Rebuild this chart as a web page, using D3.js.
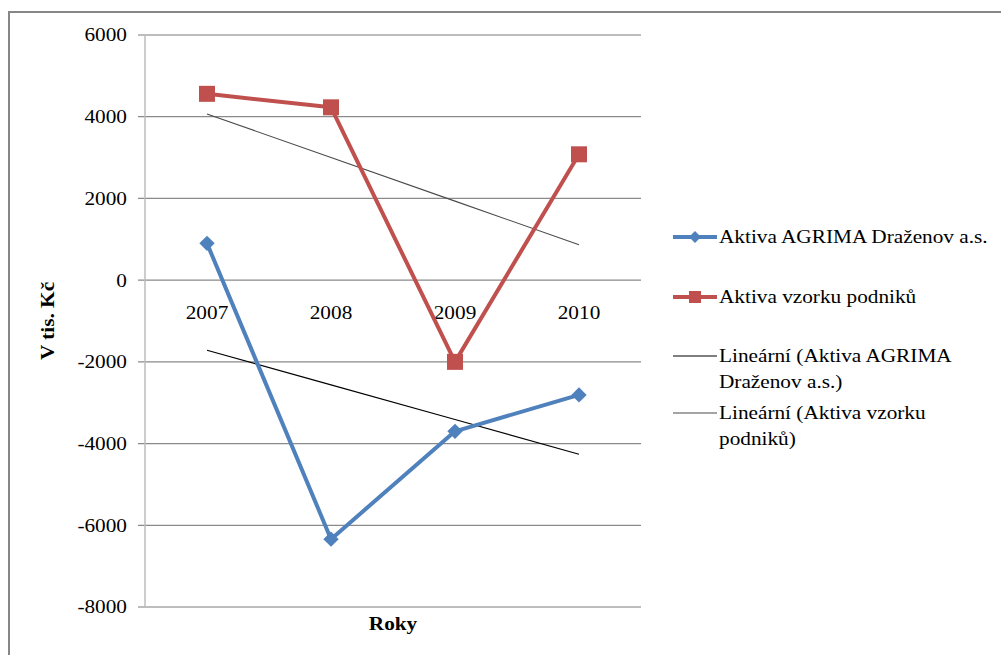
<!DOCTYPE html>
<html>
<head>
<meta charset="utf-8">
<script src="https://cdn.jsdelivr.net/npm/d3@7"></script>
<style>
  html, body { margin: 0; padding: 0; background: #fff; }
  svg { display: block; font-family: "Liberation Serif", "Times New Roman", serif; }
</style>
</head>
<body>
<svg id="chart" width="1001" height="655"></svg>
<script>
// Years on the category axis
const years = ["2007", "2008", "2009", "2010"];
// Assets, thousands CZK
const agrimaValues = [900, -6340, -3700, -2810];
const sampleValues = [4560, 4230, -2000, 3080];
// Value axis ticks
const yTicks = [6000, 4000, 2000, 0, -2000, -4000, -6000, -8000];

const seriesNames = ["Aktiva AGRIMA Draženov a.s.", "Aktiva vzorku podniků"];
const trendNames = [["Lineární (Aktiva AGRIMA", "Draženov a.s.)"], ["Lineární (Aktiva vzorku", "podniků)"]];

const svg = d3.select("#chart");
const W = 1001, H = 655;
const plot = { left: 145, right: 641, top: 35, bottom: 607 };
const FS = 18.5, STRETCH = 1.15;

// text helper: glyphs drawn slightly wide along the reading direction
function label(parent, x, y, str, opts = {}) {
  const g = parent.append("g")
    .attr("transform", `translate(${x},${y}) rotate(${opts.rotate || 0}) scale(${STRETCH},1)`);
  return g.append("text")
    .attr("x", 0).attr("y", 0).attr("dy", opts.dy || "0.35em")
    .attr("text-anchor", opts.anchor || "start")
    .attr("font-size", FS)
    .attr("font-weight", opts.bold ? "bold" : "normal")
    .attr("fill", "#000")
    .text(str);
}

// outer frame
svg.append("rect").attr("x", 9).attr("y", 12).attr("width", W + 10).attr("height", H + 10)
  .attr("fill", "none").attr("stroke", "#878787").attr("stroke-width", 2);

const x = d3.scaleBand().domain(years).range([plot.left, plot.right]);
const y = d3.scaleLinear().domain([-8000, 6000]).range([plot.bottom, plot.top]);
const xc = d => x(d) + x.bandwidth() / 2;

// horizontal gridlines
svg.append("g").selectAll("line").data(yTicks).join("line")
  .attr("x1", plot.left - 7).attr("x2", plot.right)
  .attr("y1", d => y(d)).attr("y2", d => y(d))
  .attr("stroke", d => (d === 6000 || d === -8000) ? "#bdbdbd" : "#8a8a8a")
  .attr("stroke-width", d => (d === 6000 || d === -8000) ? 2 : 1.2);

// vertical value axis
svg.append("line").attr("x1", plot.left).attr("x2", plot.left)
  .attr("y1", plot.top).attr("y2", plot.bottom)
  .attr("stroke", "#bdbdbd").attr("stroke-width", 1.5);

// tick labels (plain hyphen for negatives)
const tickG = svg.append("g");
yTicks.forEach(d => label(tickG, 127, y(d), String(d), { anchor: "end" }));

// category labels below the zero line
const catG = svg.append("g");
years.forEach(d => label(catG, xc(d), y(0) + 32, d, { anchor: "middle" }));

// axis titles
label(svg, 48, (plot.top + plot.bottom) / 2, "V tis. Kč", { rotate: -90, anchor: "middle", bold: true });
label(svg, (plot.left + plot.right) / 2, 624, "Roky", { anchor: "middle", bold: true });

// least-squares trend over category index
function trend(vals) {
  const xs = vals.map((_, i) => i + 1);
  const mx = d3.mean(xs), my = d3.mean(vals);
  const b = d3.sum(xs, (xi, i) => (xi - mx) * (vals[i] - my)) / d3.sum(xs, xi => (xi - mx) ** 2);
  return xs.map(xi => my + b * (xi - mx));
}

const line = d3.line().x((d, i) => xc(years[i])).y(d => y(d));

// trend lines
const trendColors = ["#000000", "#4a4a4a"];
[agrimaValues, sampleValues].forEach((vals, k) => {
  svg.append("path").datum(trend(vals)).attr("d", line)
    .attr("fill", "none").attr("stroke", trendColors[k]).attr("stroke-width", 1.1);
});

const blue = "#4f81bd", red = "#c0504d";

// series lines
svg.append("path").datum(agrimaValues).attr("d", line)
  .attr("fill", "none").attr("stroke", blue).attr("stroke-width", 4).attr("stroke-linejoin", "round");
svg.append("path").datum(sampleValues).attr("d", line)
  .attr("fill", "none").attr("stroke", red).attr("stroke-width", 4).attr("stroke-linejoin", "round");

// markers
const diamond = d3.symbol().type(d3.symbolDiamond2).size(150);
svg.append("g").selectAll("path").data(agrimaValues).join("path")
  .attr("transform", (d, i) => `translate(${xc(years[i])},${y(d)})`)
  .attr("d", diamond).attr("fill", blue);
svg.append("g").selectAll("rect").data(sampleValues).join("rect")
  .attr("x", (d, i) => xc(years[i]) - 8).attr("y", d => y(d) - 8)
  .attr("width", 16).attr("height", 16).attr("fill", red);

// legend
const lg = svg.append("g");
const lx1 = 673, lx2 = 717, tx = 719;
const rows = [
  { y: 237, lines: [seriesNames[0]], color: blue, w: 4, marker: "diamond" },
  { y: 297, lines: [seriesNames[1]], color: red, w: 4, marker: "square" },
  { y: 356, lines: trendNames[0], color: trendColors[0], w: 1.1 },
  { y: 413, lines: trendNames[1], color: trendColors[1], w: 1.1 }
];
rows.forEach(r => {
  lg.append("line").attr("x1", lx1).attr("x2", lx2).attr("y1", r.y).attr("y2", r.y)
    .attr("stroke", r.color).attr("stroke-width", r.w);
  if (r.marker === "diamond") {
    lg.append("path").attr("transform", `translate(${(lx1 + lx2) / 2},${r.y})`)
      .attr("d", d3.symbol().type(d3.symbolDiamond2).size(90)).attr("fill", r.color);
  } else if (r.marker === "square") {
    lg.append("rect").attr("x", (lx1 + lx2) / 2 - 6).attr("y", r.y - 6)
      .attr("width", 12).attr("height", 12).attr("fill", r.color);
  }
  r.lines.forEach((t, i) => label(lg, tx, r.y + i * 26, t));
});
</script>
</body>
</html>
